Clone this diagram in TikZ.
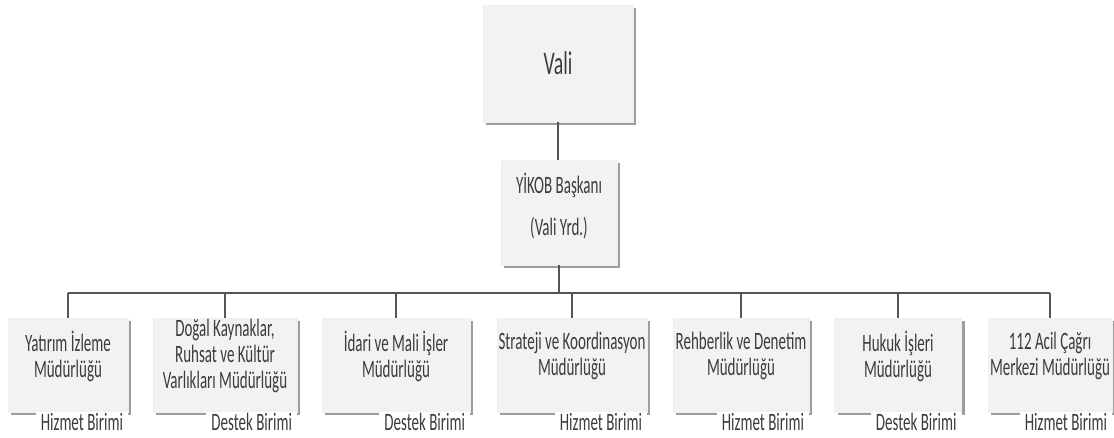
\documentclass[tikz,border=0pt]{standalone}
\usepackage{fontspec}
\setmainfont{Carlito}[FakeStretch=0.6]
\usepackage{tikz}
\usetikzlibrary{shadows}
\usetikzlibrary{positioning}

\definecolor{kutu}{HTML}{F2F2F2}
\definecolor{yazi}{HTML}{3C3C3C}
\definecolor{cizgi}{HTML}{555555}

\tikzset{
	birim/.style={fill=kutu, draw=black!6, minimum height=94pt, inner sep=0pt, text=yazi,
		drop shadow={shadow xshift=3pt, shadow yshift=-3pt, fill=black!70, opacity=.55}},
	birimyazi/.style={align=center, font=\fontsize{25pt}{26pt}\selectfont, text=yazi, inner sep=0pt},
	tur/.style={anchor=north east, fill=white, text=yazi, font=\fontsize{25pt}{26pt}\selectfont,
		inner xsep=5pt, inner ysep=2pt, text height=16pt, text depth=3pt},
	hat/.style={draw=cizgi, line width=1.3pt}
}

\begin{document}
\begin{tikzpicture}[x=1pt, y=-1pt]
	
	\useasboundingbox (0,0) rectangle (1114,437);
	
	% ust kademe
	\node[birim, minimum width=150pt, minimum height=117pt, font=\fontsize{33pt}{36pt}\selectfont] (vali) at (558,63.5) {Vali};
	\node[birim, minimum width=116pt, minimum height=105pt] (baskan) at (559,212.5) {};
	\node[birimyazi] (baskan-y) at ([yshift=6pt]baskan.center) {YİKOB Başkanı\\[16pt](Vali Yrd.)};
	
	\coordinate (bus) at (558,293);
	
	% mudurlukler
	\node[birim, minimum width=120pt] (yatirim) at (68,365) {};
	\node[birimyazi] (yatirim-y) at ([yshift=9pt]yatirim.center) {Yatırım İzleme\\Müdürlüğü};
	
	\node[birim, minimum width=144pt] (dogal) at (225,365) {};
	\node[birimyazi] (dogal-y) at ([yshift=9pt]dogal.center) {Doğal Kaynaklar,\\Ruhsat ve Kültür\\Varlıkları Müdürlüğü};
	
	\node[birim, minimum width=148pt] (idari) at (396,365) {};
	\node[birimyazi] (idari-y) at ([yshift=9pt]idari.center) {İdari ve Mali İşler\\Müdürlüğü};
	
	\node[birim, minimum width=150pt] (strateji) at (572,365) {};
	\node[birimyazi] (strateji-y) at ([yshift=9pt]strateji.center) {Strateji ve Koordinasyon\\Müdürlüğü};
	
	\node[birim, minimum width=136pt] (rehberlik) at (741,365) {};
	\node[birimyazi] (rehberlik-y) at ([yshift=9pt]rehberlik.center) {Rehberlik ve Denetim\\Müdürlüğü};
	
	\node[birim, minimum width=127pt] (hukuk) at (898,365) {};
	\node[birimyazi] (hukuk-y) at ([yshift=9pt]hukuk.center) {Hukuk İşleri\\Müdürlüğü};
	
	\node[birim, minimum width=124pt] (acil) at (1050,365) {};
	\node[birimyazi] (acil-y) at ([yshift=9pt]acil.center) {112 Acil Çağrı\\Merkezi Müdürlüğü};
	
	% baglantilar
	\draw[hat] (vali.south) -- (vali.south |- baskan.north);
	\draw[hat] (baskan.south) -- (baskan.south |- bus);
	\draw[hat] (yatirim.north |- bus) -- (acil.north |- bus);
	\foreach \b in {yatirim,dogal,idari,strateji,rehberlik,hukuk,acil}
		\draw[hat] (\b.north |- bus) -- (\b.north);
	
	% birim turleri
	\node[tur] (yatirim-t) at (yatirim.south east) {Hizmet Birimi};
	\node[tur] (dogal-t) at (dogal.south east) {Destek Birimi};
	\node[tur] (idari-t) at (idari.south east) {Destek Birimi};
	\node[tur] (strateji-t) at (strateji.south east) {Hizmet Birimi};
	\node[tur] (rehberlik-t) at (rehberlik.south east) {Hizmet Birimi};
	\node[tur] (hukuk-t) at (hukuk.south east) {Destek Birimi};
	\node[tur] (acil-t) at (acil.south east) {Hizmet Birimi};
	
\end{tikzpicture}
\end{document}
